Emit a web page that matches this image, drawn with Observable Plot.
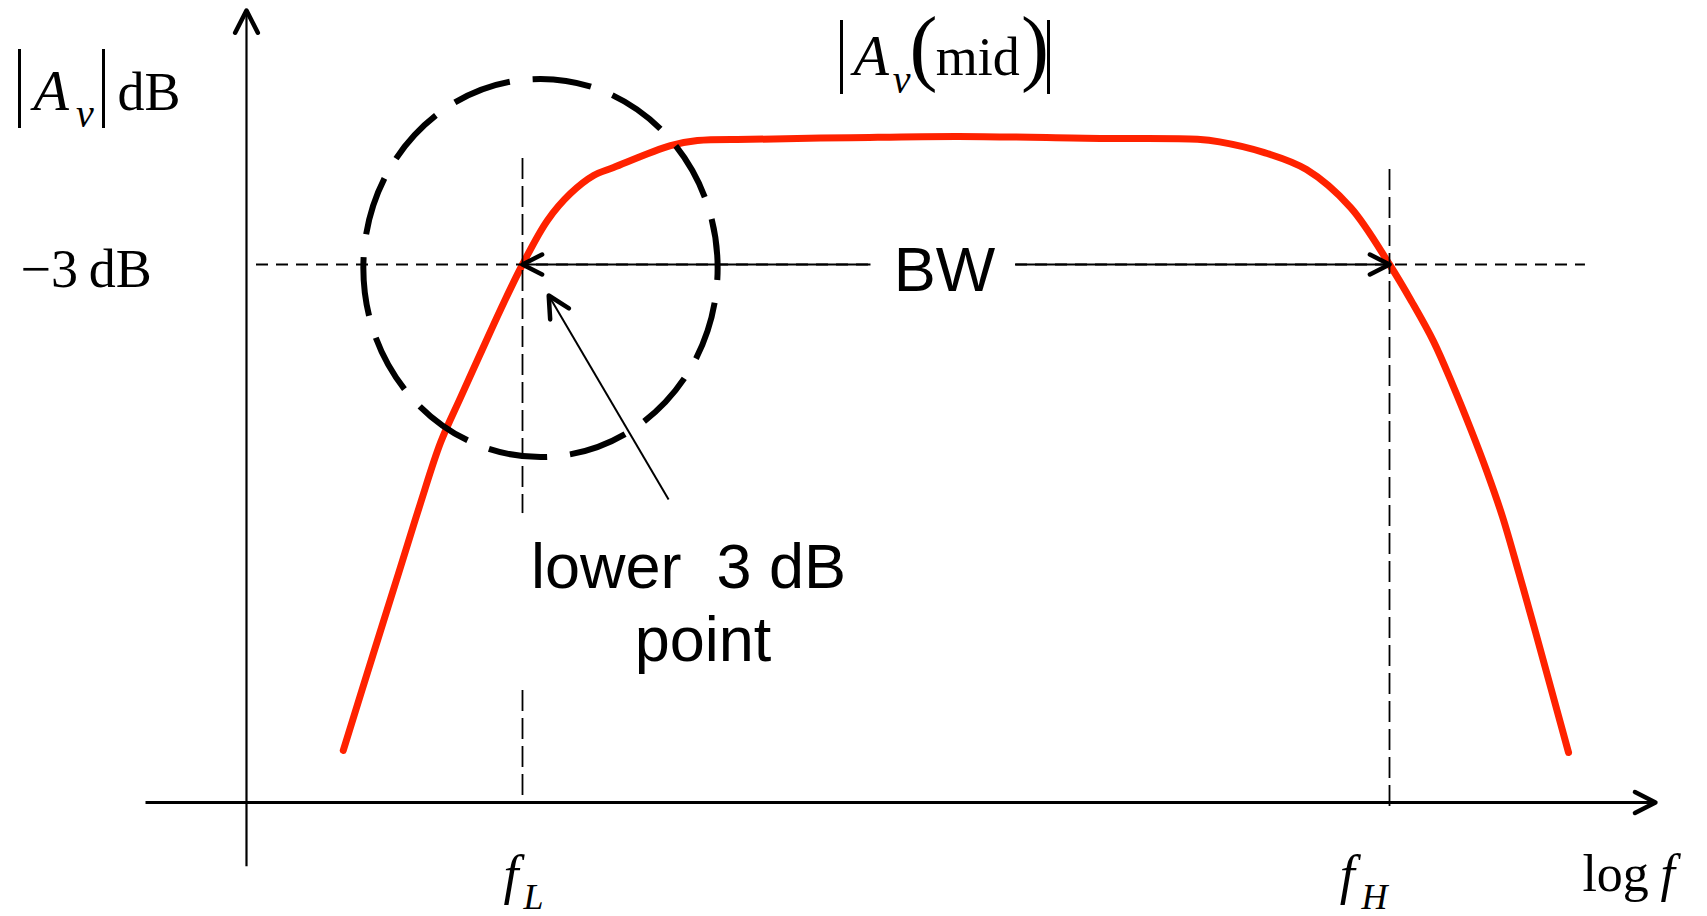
<!DOCTYPE html>
<html>
<head>
<meta charset="utf-8">
<script src="https://cdn.jsdelivr.net/npm/d3@7"></script>
<script src="https://cdn.jsdelivr.net/npm/@observablehq/plot@0.6"></script>
<style>
  html, body { margin: 0; padding: 0; background: #fff; overflow: hidden; }
</style>
</head>
<body>
<div id="chart"></div>
<script>
// Amplifier frequency response: x in decades of frequency (log f), y in dB
// relative to the mid-band gain |Av(mid)|.
const logFreq = [1.173, 1.308, 1.437, 1.529, 1.622, 1.714, 1.806, 1.899, 2.0, 2.115, 2.221, 2.328, 2.420,
  2.683, 2.807, 3.052, 3.513, 4.012, 4.667, 5.114, 5.216, 5.419, 5.617, 5.820, 6.0,
  6.102, 6.203, 6.291, 6.374, 6.448, 6.521, 6.595, 6.674, 6.826];
const gainDb = [-14.57, -12.33, -10.21, -8.69, -7.24, -6.17, -5.12, -4.07, -3.0, -1.95, -1.31, -0.88, -0.69,
  -0.17, -0.05, -0.02, 0.02, 0.05, 0.0, -0.02, -0.08, -0.33, -0.74, -1.64, -3.0,
  -3.88, -4.83, -5.86, -6.91, -7.91, -9.0, -10.31, -11.76, -14.62];

// Corner frequencies (log f) and the half-power level
const fL = 2;
const fH = 6;
const cutoffDb = -3;

// Text
const yAxisLabel = ["A", "v", "dB"];
const midLabel = ["A", "v", "(", "mid", ")"];
const cutoffLabel = "\u22123\u2009dB";
const bandwidthLabel = "BW";
const pointLabel = ["lower\u00a0 3 dB", "point"];
const fLLabel = ["f", "L"];
const fHLabel = ["f", "H"];
const xAxisLabel = ["log", "f"];

const W = 1707, H = 916;
const xDomain = [-0.4083, 7.4671];
const yDomain = [-18.5238, 3.2857];

const serif = "'Liberation Serif', 'Times New Roman', Times, serif";
const sans = "'Liberation Sans', Arial, Helvetica, sans-serif";
const red = "#ff2200";

const xs = Plot.scale({x: {domain: xDomain, range: [0, W]}});
const ys = Plot.scale({y: {domain: yDomain, range: [H, 0]}});
const screenAngle = (x1, y1, x2, y2) =>
  Math.atan2(ys.apply(y2) - ys.apply(y1), xs.apply(x2) - xs.apply(x1)) * 180 / Math.PI;

// Open arrowhead pointing along +x, tip at the origin
const chevron = {
  draw(ctx, size) {
    const r = Math.sqrt(size / Math.PI);
    const a = 27 * Math.PI / 180;
    ctx.moveTo(-r * Math.cos(a), -r * Math.sin(a));
    ctx.lineTo(0, 0);
    ctx.lineTo(-r * Math.cos(a), r * Math.sin(a));
  }
};

// Slightly tall ellipse used to ring the lower 3 dB point
const ring = {
  draw(ctx, size) {
    const r = Math.sqrt(size / Math.PI);
    const rx = r * 0.968, ry = r * 1.033, k = 0.5523;
    ctx.moveTo(rx, 0);
    ctx.bezierCurveTo(rx, k * ry, k * rx, ry, 0, ry);
    ctx.bezierCurveTo(-k * rx, ry, -rx, k * ry, -rx, 0);
    ctx.bezierCurveTo(-rx, -k * ry, -k * rx, -ry, 0, -ry);
    ctx.bezierCurveTo(k * rx, -ry, rx, -k * ry, rx, 0);
    ctx.closePath();
  }
};

const head = (x, y, rotate, r = 23) =>
  Plot.dot([0], {x: () => x, y: () => y, symbol: chevron, r, rotate, fill: "none",
    stroke: "black", strokeWidth: 4.5, strokeLinecap: "round", strokeLinejoin: "round"});

const label = (text, x, y, o = {}) =>
  Plot.text([text], {x: () => x, y: () => y, text: d => d, lineAnchor: "bottom",
    textAnchor: "start", fill: "black", fontFamily: serif, fontSize: 54, ...o});

// Absolute-value fences drawn as vertical strokes
const fence = (xPair, y1, y2) =>
  Plot.ruleX(xPair, {y1: () => y1, y2: () => y2, stroke: "black", strokeWidth: 3});

const curve = logFreq.map((x, i) => ({x, y: gainDb[i]}));

// Axis extents
const yAxisX = 0.7266, yAxisBottom = -17.33, yAxisTop = 3.048;
const xAxisY = -15.81, xAxisLeft = 0.2607, xAxisRight = 7.227;

// Gap left in the bandwidth line for its label
const bwGap = [3.6055, 4.2745];

// Annotation arrow pointing at the lower 3 dB point
const noteTail = [2.674, -8.595], noteTip = [2.121, -3.738];

const chart = Plot.plot({
  width: W,
  height: H,
  margin: 0,
  x: {domain: xDomain, axis: null},
  y: {domain: yDomain, axis: null},
  style: {background: "white", overflow: "visible"},
  marks: [
    // response curve
    Plot.line(curve, {x: "x", y: "y", stroke: red, strokeWidth: 7, curve: "catmull-rom"}),

    // axes
    Plot.link([0], {x1: () => yAxisX, x2: () => yAxisX, y1: () => yAxisBottom, y2: () => yAxisTop,
      stroke: "black", strokeWidth: 2.2}),
    head(yAxisX, yAxisTop, -90, 25),
    Plot.link([0], {x1: () => xAxisLeft, x2: () => xAxisRight, y1: () => xAxisY, y2: () => xAxisY,
      stroke: "black", strokeWidth: 3}),
    head(xAxisRight, xAxisY, 0, 23),

    // -3 dB level and corner-frequency guides
    Plot.ruleY([cutoffDb, cutoffDb], {x1: [0.7728, bwGap[1]], x2: [bwGap[0], 6.904], stroke: "black",
      strokeWidth: 2, strokeDasharray: "12,8"}),
    Plot.ruleX([fL, fL], {y1: [-0.476, -13.14], y2: [-8.93, -15.64], stroke: "black",
      strokeWidth: 1.8, strokeDasharray: "21,7"}),
    Plot.ruleX([fH], {y1: -0.74, y2: -15.95, stroke: "black", strokeWidth: 1.8,
      strokeDasharray: "21,7"}),

    // bandwidth arrow between fL and fH
    Plot.link([[fL, bwGap[0]], [bwGap[1], fH]], {x1: d => d[0], x2: d => d[1], y1: () => cutoffDb,
      y2: () => cutoffDb, stroke: "black", strokeWidth: 2}),
    head(fL, cutoffDb, 180, 22),
    head(fH, cutoffDb, 0, 22),
    label(bandwidthLabel, 3.947, -3.636, {textAnchor: "middle", fontFamily: sans, fontSize: 63}),

    // dashed ring around the lower 3 dB point
    Plot.dot([0], {x: () => 2.083, y: () => -3.083, symbol: ring, r: 183, fill: "none",
      stroke: "black", strokeWidth: 6, strokeDasharray: "59,23", strokeDashoffset: 47}),

    // pointer and its caption
    Plot.link([0], {x1: () => noteTail[0], y1: () => noteTail[1], x2: () => noteTip[0],
      y2: () => noteTip[1], stroke: "black", strokeWidth: 2}),
    head(noteTip[0], noteTip[1], screenAngle(noteTail[0], noteTail[1], noteTip[0], noteTip[1]), 24),
    label(pointLabel[0], 2.766, -10.714, {textAnchor: "middle", fontFamily: sans, fontSize: 63}),
    label(pointLabel[1], 2.833, -12.43, {textAnchor: "middle", fontFamily: sans, fontSize: 63}),

    // |Av| dB
    fence([-0.3207, 0.0669], 2.119, 0.238),
    label(yAxisLabel[0], -0.256, 0.690, {fontStyle: "italic", fontSize: 58}),
    label(yAxisLabel[1], -0.0605, 0.280, {fontStyle: "italic", fontSize: 40}),
    label(yAxisLabel[2], 0.1315, 0.690),

    // |Av(mid)|
    fence([3.4717, 4.4268], 2.81, 1.048),
    label(midLabel[0], 3.527, 1.5, {fontStyle: "italic", fontSize: 58}),
    label(midLabel[1], 3.708, 1.08, {fontStyle: "italic", fontSize: 40}),
    label(midLabel[2], 3.786, 1.5, {fontSize: 84}),
    label(midLabel[3], 3.906, 1.5),
    label(midLabel[4], 4.300, 1.5, {fontSize: 84}),

    // -3 dB
    label(cutoffLabel, -0.316, -3.54),

    // fL, fH, log f
    label(fLLabel[0], 1.912, -17.976, {fontStyle: "italic"}),
    label(fLLabel[1], 2.0046, -18.357, {fontStyle: "italic", fontSize: 36}),
    label(fHLabel[0], 5.770, -17.976, {fontStyle: "italic"}),
    label(fHLabel[1], 5.871, -18.357, {fontStyle: "italic", fontSize: 36}),
    label(xAxisLabel[0], 6.890, -17.905, {fontSize: 52}),
    label(xAxisLabel[1], 7.250, -17.905, {fontStyle: "italic", fontSize: 52})
  ]
});

document.getElementById("chart").append(chart);
</script>
</body>
</html>
